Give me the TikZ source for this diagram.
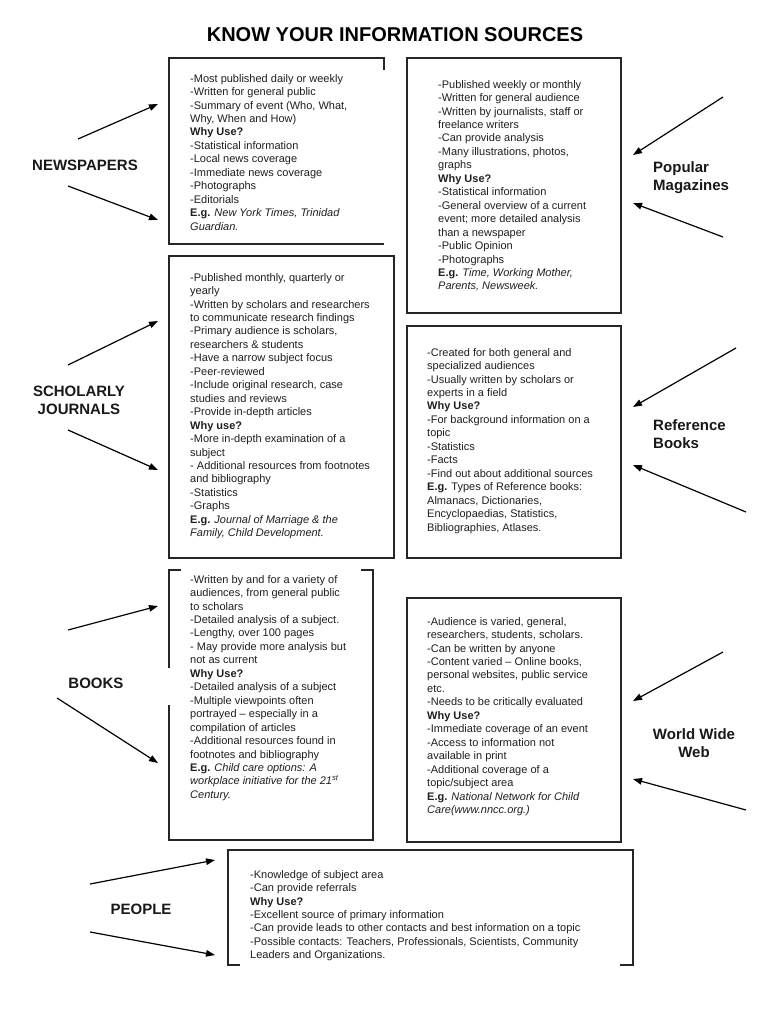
\documentclass[tikz,border=0pt]{standalone}
\usepackage{fontspec}
\setmainfont{Liberation Sans}
\usetikzlibrary{arrows.meta}
\begin{document}
\begin{tikzpicture}[x=1pt,y=-1pt,
  boxtext/.style={anchor=north west,align=left,inner sep=0pt,text=black!88,font=\fontsize{11}{13.45}\selectfont},
  srclabel/.style={inner sep=0pt,font=\fontsize{15}{18}\selectfont\bfseries,text=black!90},
  border/.style={draw=black!85,line width=1.1pt},
  pointer/.style={draw=black,line width=1.2pt,-{Triangle[length=9pt,width=6.5pt]}}]
\useasboundingbox (0,0) rectangle (768,1024);
\fill[white] (0,0) rectangle (768,1024);

% title
\node[inner sep=0pt,font=\fontsize{20}{24}\selectfont\bfseries] (title) at (395,35) {KNOW YOUR INFORMATION SOURCES};

% ---------- box borders ----------
% newspapers (open right side)
\draw[border] (384,70) -- (384,58) -- (169,58) -- (169,244) -- (384,244);
% magazines
\draw[border] (407,58) rectangle (621,313);
% scholarly
\draw[border] (169,256) rectangle (394,558);
% reference
\draw[border] (407,326) rectangle (621,558);
% books (gaps in top and left)
\draw[border] (181,570) -- (169,570) -- (169,668);
\draw[border] (169,705) -- (169,840) -- (373,840) -- (373,570) -- (361,570);
% world wide web
\draw[border] (407,598) rectangle (621,842);
% people (gap in bottom)
\draw[border] (240,965) -- (228,965) -- (228,850) -- (633,850) -- (633,965) -- (620,965);

% ---------- box texts ----------
\node[boxtext] (newsText) at (190,74) {-Most published daily or weekly\\
-Written for general public\\
-Summary of event (Who, What,\\
Why, When and How)\\
\textbf{Why Use?}\\
-Statistical information\\
-Local news coverage\\
-Immediate news coverage\\
-Photographs\\
-Editorials\\
\textbf{E.g.} \textit{New York Times, Trinidad}\\
\textit{Guardian.}};

\node[boxtext] (magText) at (438,80) {-Published weekly or monthly\\
-Written for general audience\\
-Written by journalists, staff or\\
freelance writers\\
-Can provide analysis\\
-Many illustrations, photos,\\
graphs\\
\textbf{Why Use?}\\
-Statistical information\\
-General overview of a current\\
event; more detailed analysis\\
than a newspaper\\
-Public Opinion\\
-Photographs\\
\textbf{E.g.} \textit{Time, Working Mother,}\\
\textit{Parents, Newsweek.}};

\node[boxtext] (scholText) at (190,273) {-Published monthly, quarterly or\\
yearly\\
-Written by scholars and researchers\\
to communicate research findings\\
-Primary audience is scholars,\\
researchers \& students\\
-Have a narrow subject focus\\
-Peer-reviewed\\
-Include original research, case\\
studies and reviews\\
-Provide in-depth articles\\
\textbf{Why use?}\\
-More in-depth examination of a\\
subject\\
- Additional resources from footnotes\\
and bibliography\\
-Statistics\\
-Graphs\\
\textbf{E.g.} \textit{Journal of Marriage \& the}\\
\textit{Family, Child Development.}};

\node[boxtext] (refText) at (427,348) {-Created for both general and\\
specialized audiences\\
-Usually written by scholars or\\
experts in a field\\
\textbf{Why Use?}\\
-For background information on a\\
topic\\
-Statistics\\
-Facts\\
-Find out about additional sources\\
\textbf{E.g.} Types of Reference books:\\
Almanacs, Dictionaries,\\
Encyclopaedias, Statistics,\\
Bibliographies, Atlases.};

\node[boxtext] (bookText) at (190,575) {-Written by and for a variety of\\
audiences, from general public\\
to scholars\\
-Detailed analysis of a subject.\\
-Lengthy, over 100 pages\\
- May provide more analysis but\\
not as current\\
\textbf{Why Use?}\\
-Detailed analysis of a subject\\
-Multiple viewpoints often\\
portrayed – especially in a\\
compilation of articles\\
-Additional resources found in\\
footnotes and bibliography\\
\textbf{E.g.} \textit{Child care options: A}\\
\textit{workplace initiative for the 21\textsuperscript{st}}\\
\textit{Century.}};

\node[boxtext] (webText) at (427,617) {-Audience is varied, general,\\
researchers, students, scholars.\\
-Can be written by anyone\\
-Content varied – Online books,\\
personal websites, public service\\
etc.\\
-Needs to be critically evaluated\\
\textbf{Why Use?}\\
-Immediate coverage of an event\\
-Access to information not\\
available in print\\
-Additional coverage of a\\
topic/subject area\\
\textbf{E.g.} \textit{National Network for Child}\\
\textit{Care(www.nncc.org.)}};

\node[boxtext] (peopleText) at (250,870) {-Knowledge of subject area\\
-Can provide referrals\\
\textbf{Why Use?}\\
-Excellent source of primary information\\
-Can provide leads to other contacts and best information on a topic\\
-Possible contacts: Teachers, Professionals, Scientists, Community\\
Leaders and Organizations.};

% ---------- labels ----------
\node[srclabel] (lNews) at (85,165) {NEWSPAPERS};
\node[srclabel,anchor=west,align=left] (lMag) at (653,178) {Popular\\Magazines};
\node[srclabel,align=center] (lSchol) at (79,400) {SCHOLARLY\\JOURNALS};
\node[srclabel,anchor=west,align=left] (lRef) at (653,434) {Reference\\Books};
\node[srclabel] (lBooks) at (96,683) {BOOKS};
\node[srclabel,align=center] (lWeb) at (694,743) {World Wide\\Web};
\node[srclabel] (lPeople) at (141,909) {PEOPLE};

% ---------- arrows ----------
\coordinate (nA1) at (78,139);  \coordinate (nB1) at (158,104);
\coordinate (nA2) at (68,186);  \coordinate (nB2) at (158,220);
\coordinate (mA1) at (723,97);  \coordinate (mB1) at (633,155);
\coordinate (mA2) at (723,237); \coordinate (mB2) at (633,203);
\coordinate (sA1) at (68,365);  \coordinate (sB1) at (158,321);
\coordinate (sA2) at (68,430);  \coordinate (sB2) at (158,470);
\coordinate (rA1) at (736,348); \coordinate (rB1) at (633,407);
\coordinate (rA2) at (746,512); \coordinate (rB2) at (633,465);
\coordinate (bA1) at (68,630);  \coordinate (bB1) at (158,606);
\coordinate (bA2) at (57,698);  \coordinate (bB2) at (158,763);
\coordinate (wA1) at (723,652); \coordinate (wB1) at (633,701);
\coordinate (wA2) at (746,810); \coordinate (wB2) at (633,779);
\coordinate (pA1) at (90,884);  \coordinate (pB1) at (215,860);
\coordinate (pA2) at (90,932);  \coordinate (pB2) at (215,955);
\foreach \s in {n,m,s,r,b,w,p}{
  \draw[pointer] (\s A1) -- (\s B1);
  \draw[pointer] (\s A2) -- (\s B2);
}
\end{tikzpicture}
\end{document}
